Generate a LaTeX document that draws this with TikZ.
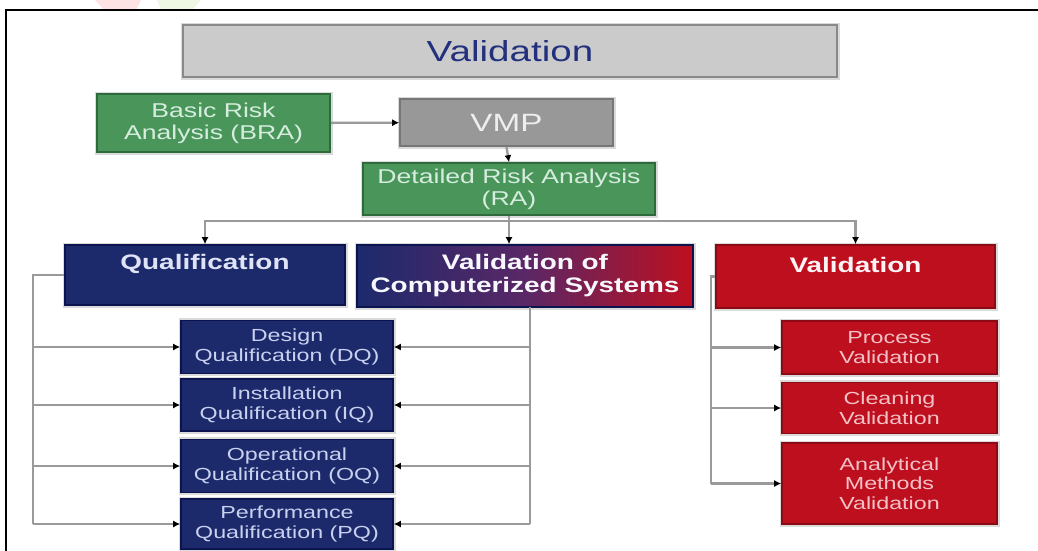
\documentclass[tikz,border=0pt]{standalone}
\usepackage{fontspec}
\setmainfont{Liberation Sans}[FakeStretch=1.33]
\usetikzlibrary{arrows.meta}

\definecolor{titlefill}{HTML}{CBCBCB}
\definecolor{titleedge}{HTML}{8A8A8A}
\definecolor{titleink}{HTML}{22307E}
\definecolor{greenfill}{HTML}{4A965A}
\definecolor{greenedge}{HTML}{2F6A3D}
\definecolor{greenink}{HTML}{D6ECDF}
\definecolor{grayfill}{HTML}{989898}
\definecolor{grayedge}{HTML}{767676}
\definecolor{grayink}{HTML}{EEEEEE}
\definecolor{navyfill}{HTML}{1C2A6C}
\definecolor{navyedge}{HTML}{0C1450}
\definecolor{navyink}{HTML}{C9D1EF}
\definecolor{purplemid}{HTML}{5A2766}
\definecolor{redfill}{HTML}{BE0F1F}
\definecolor{rededge}{HTML}{8C0A14}
\definecolor{redink}{HTML}{F4C2C6}
\definecolor{linkgray}{HTML}{9A9A9A}
\definecolor{halo}{HTML}{DADADA}
\definecolor{markpink}{HTML}{FDE3E3}
\definecolor{markgreen}{HTML}{EDF7E4}

\tikzset{
  box/.style={rectangle, inner sep=0pt, align=center,
    preaction={draw=halo, line width=5pt}, line width=1.6pt},
  titlebox/.style={box, fill=titlefill, draw=titleedge, text=titleink,
    font=\fontsize{29}{32}\selectfont},
  greenbox/.style={box, fill=greenfill, draw=greenedge, text=greenink,
    font=\fontsize{20}{22}\selectfont},
  graybox/.style={box, fill=grayfill, draw=grayedge, text=grayink,
    font=\fontsize{25}{28}\selectfont},
  navybox/.style={box, fill=navyfill, draw=navyedge, text=navyink,
    font=\fontsize{17.5}{19.5}\selectfont},
  redbox/.style={box, fill=redfill, draw=rededge, text=redink,
    font=\fontsize{17.5}{19.5}\selectfont},
  headtext/.style={inner sep=0pt, align=center,
    font=\bfseries\fontsize{21}{23}\selectfont},
  link/.style={draw=linkgray, line width=2.4pt},
  linkarrow/.style={link, -{Latex[length=7pt,width=7pt,color=black]}}
}

\begin{document}
\begin{tikzpicture}[x=1pt, y=-1pt]
\useasboundingbox (0,0) rectangle (1038,550);

% faint logo marks along the top edge
\fill[markpink] (95,0) -- (141,0) -- (136,10) -- (104,10) -- cycle;
\fill[markgreen] (157,0) -- (201,0) -- (192,10) -- (161,10) -- cycle;

% page frame
\draw[black, line width=1.6pt] (6,551) -- (6,10) -- (1039,10);

% top levels
\node[titlebox, minimum width=654, minimum height=52] (title) at (510,51) {Validation};
\node[greenbox, minimum width=233, minimum height=58] (bra) at (213.5,123) {Basic Risk\\Analysis (BRA)};
\node[graybox, minimum width=213, minimum height=47] (vmp) at (506.5,122.5) {VMP};
\node[greenbox, minimum width=292, minimum height=52] (dra) at (509,189) {Detailed Risk Analysis\\(RA)};

% three branches
\node[box, fill=navyfill, draw=navyedge, minimum width=280, minimum height=60] (qual) at (205,275) {};
\node[headtext, text=navyink!60!white] (qualt) at (205,264) {Qualification};
\node[box, draw=navyedge, left color=navyfill, right color=redfill, middle color=purplemid,
      minimum width=336, minimum height=62] (vcs) at (525,276) {};
\node[headtext, text=white!85!navyink] (vcst) at (525,276) {Validation of\\Computerized Systems};
\node[box, fill=redfill, draw=rededge, minimum width=279, minimum height=63] (val) at (855.5,276.5) {};
\node[headtext, text=white!80!redink] (valt) at (855.5,265) {Validation};

% qualification stages
\node[navybox, minimum width=212, minimum height=53] (dq) at (287,347) {Design\\Qualification (DQ)};
\node[navybox, minimum width=212, minimum height=52] (iq) at (287,405) {Installation\\Qualification (IQ)};
\node[navybox, minimum width=212, minimum height=53] (oq) at (287,466) {Operational\\Qualification (OQ)};
\node[navybox, minimum width=212, minimum height=50] (pq) at (287,524) {Performance\\Qualification (PQ)};

% validation types
\node[redbox, minimum width=215, minimum height=53] (pv) at (889.5,347.5) {Process\\Validation};
\node[redbox, minimum width=215, minimum height=51] (cv) at (889.5,408) {Cleaning\\Validation};
\node[redbox, minimum width=215, minimum height=81] (av) at (889.5,483.5) {Analytical\\Methods\\Validation};

% connectors at the top
\draw[linkarrow] (bra) -- (vmp);
\draw[linkarrow] (vmp.south) -- (dra.north);
\coordinate (bus) at (509,221);
\draw[link] (dra.south) -- (bus);
\draw[linkarrow] (bus) -| (qual.north);
\draw[linkarrow] (bus) -| (val.north);
\draw[linkarrow] (bus) -- (bus |- vcs.north);

% qualification spine
\coordinate (qspine) at (33,275);
\draw[link] (qual.west) -- (qspine) -- (qspine |- pq.west);
\foreach \s in {dq,iq,oq,pq}
  \draw[linkarrow] (qspine |- \s.west) -- (\s.west);

% computerized systems spine
\coordinate (cspine) at (530,307);
\draw[link] (cspine) -- (cspine |- pq.east);
\foreach \s in {dq,iq,oq,pq}
  \draw[linkarrow] (cspine |- \s.east) -- (\s.east);

% validation spine
\coordinate (vspine) at (711,276.5);
\draw[link] (val.west) -- (vspine) -- (vspine |- av.west);
\foreach \s in {pv,cv,av}
  \draw[linkarrow] (vspine |- \s.west) -- (\s.west);
\end{tikzpicture}
\end{document}
